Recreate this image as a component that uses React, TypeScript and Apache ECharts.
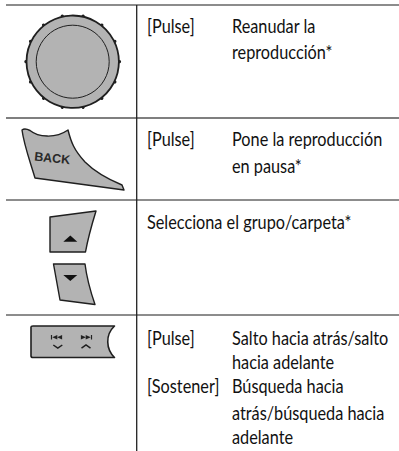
import React, { useEffect, useRef } from "react";
import * as echarts from "echarts";

const pressLabels = ["[Pulse]", "[Pulse]", "[Pulse]", "[Sostener]"];
const pressBaselines = [32, 145, 344, 392];
const actionLines = [
  "Reanudar la",
  "reproducción*",
  "Pone la reproducción",
  "en pausa*",
  "Salto hacia atrás/salto",
  "hacia adelante",
  "Búsqueda hacia",
  "atrás/búsqueda hacia",
  "adelante",
];
const actionBaselines = [32, 58, 145, 172, 344, 368, 392, 419, 443];
const folderLine = "Selecciona el grupo/carpeta*";
const rowLines = [
  { y: 5, color: "#666666", w: 1.6, x1: 6 },
  { y: 118, color: "#555555", w: 1.3, x1: 6 },
  { y: 200, color: "#1a1a1a", w: 1, x1: 6 },
  { y: 315, color: "#1a1a1a", w: 1, x1: 6 },
];
const knobStuds = Array.from({ length: 14 }, (_, i) => i);

const FONT = "Lato, sans-serif";
const GREY = "#b3b3b3";
const INK = "#1f1f1f";
const TEXT_SCALE = 0.88;

const PATHS: Record<string, string> = {
  backKey:
    "M22 130 C24 128.5 27 129 30 130.5 C38 137 55 139 68 130 C71 142 74 150 85 162 C95 172 110 180 122 185 L124 190 L35 178 C29 158 24 145 22 130 Z",
  upKey: "M50 217 L96 211 C92 224 88 238 85.5 252 L50 252 Z",
  downKey: "M53.5 264 L85 264 C87 280 91 293 95 304.5 L60 300 Z",
  barKey:
    "M31 327 Q31 326 33 326 L114.5 326 C105 335 106 349 114.5 357.5 L33 357.5 Q31 357.5 31 356 Z",
};
Object.keys(PATHS).forEach((k) => {
  echarts.graphic.registerShape(k, echarts.graphic.extendPath(PATHS[k], {}));
});

function text(t: string, x: number, baseline: number) {
  return {
    type: "text",
    x,
    y: baseline - 5.5,
    scaleX: TEXT_SCALE,
    silent: true,
    style: {
      text: t,
      x: 0,
      y: 0,
      fill: "#111111",
      font: `18.5px ${FONT}`,
      verticalAlign: "middle",
    },
  };
}

function buildGraphics() {
  const els: any[] = [];
  rowLines.forEach((l) =>
    els.push({
      type: "line",
      shape: { x1: l.x1, y1: l.y, x2: 399, y2: l.y },
      style: { stroke: l.color, lineWidth: l.w },
    })
  );
  els.push({
    type: "line",
    shape: { x1: 136.7, y1: 5, x2: 136.7, y2: 451 },
    style: { stroke: "#222222", lineWidth: 1.3 },
  });

  // knob
  const cx = 72.7;
  const cy = 61.7;
  knobStuds.forEach((i) => {
    const a = (i * 2 * Math.PI) / knobStuds.length;
    els.push({
      type: "circle",
      shape: { cx: cx + 46.8 * Math.cos(a), cy: cy + 46.8 * Math.sin(a), r: 1.6 },
      style: { fill: INK },
    });
  });
  els.push({
    type: "circle",
    shape: { cx, cy, r: 46.2 },
    style: { fill: GREY, stroke: INK, lineWidth: 1.8 },
  });
  els.push({
    type: "circle",
    shape: { cx, cy, r: 36.5 },
    style: { fill: "none", stroke: INK, lineWidth: 1 },
  });

  // keys
  Object.keys(PATHS).forEach((k) => {
    els.push({
      type: k,
      style: { fill: GREY, stroke: INK, lineWidth: k === "barKey" ? 1.6 : 1.4, lineJoin: "round" },
    });
  });
  els.push({
    type: "text",
    x: 35,
    y: 150,
    rotation: -(6 * Math.PI) / 180,
    silent: true,
    style: {
      text: "BACK",
      x: 0,
      y: 0,
      fill: "#2a2a2a",
      font: "bold 12.5px 'Liberation Sans', sans-serif",
      verticalAlign: "top",
    },
  });
  // triangles
  els.push({
    type: "polygon",
    shape: { points: [[63.3, 241.7], [77.3, 241.7], [70.3, 235.5]] },
    style: { fill: "#111111" },
  });
  els.push({
    type: "polygon",
    shape: { points: [[63.3, 275], [77.3, 275], [70.3, 281]] },
    style: { fill: "#111111" },
  });
  // skip icons on bar key
  const t = 335;
  const icon = (barX: number, dir: number) => {
    els.push({
      type: "line",
      shape: { x1: barX, y1: t, x2: barX, y2: t + 4.5 },
      style: { stroke: "#222222", lineWidth: 1.2 },
    });
    [0.8, 5.6].forEach((off) => {
      els.push({
        type: "polygon",
        shape: {
          points: [
            [barX + dir * off, t + 2.25],
            [barX + dir * (off + 5), t],
            [barX + dir * (off + 5), t + 4.5],
          ],
        },
        style: { fill: "#222222" },
      });
    });
  };
  icon(51.5, 1);
  icon(91.5, -1);
  els.push({
    type: "polyline",
    shape: { points: [[53.3, 345], [57.8, 348.2], [62.3, 345]] },
    style: { stroke: INK, lineWidth: 1.5, fill: "none" },
  });
  els.push({
    type: "polyline",
    shape: { points: [[81.5, 348.2], [86, 345], [90.5, 348.2]] },
    style: { stroke: INK, lineWidth: 1.5, fill: "none" },
  });

  // texts
  pressLabels.forEach((s, i) => els.push(text(s, 147, pressBaselines[i])));
  actionLines.forEach((s, i) => els.push(text(s, 232, actionBaselines[i])));
  els.push(text(folderLine, 147, 228));
  return els;
}

export default function App() {
  const ref = useRef<HTMLDivElement>(null);
  useEffect(() => {
    document.body.style.margin = "0";
    document.body.style.background = "#ffffff";
    const chart = echarts.init(ref.current!, undefined, { renderer: "svg" });
    chart.setOption({
      animation: false,
      backgroundColor: "#ffffff",
      graphic: { elements: buildGraphics() },
    });
    return () => chart.dispose();
  }, []);
  return <div ref={ref} style={{ width: 399, height: 451 }} />;
}
